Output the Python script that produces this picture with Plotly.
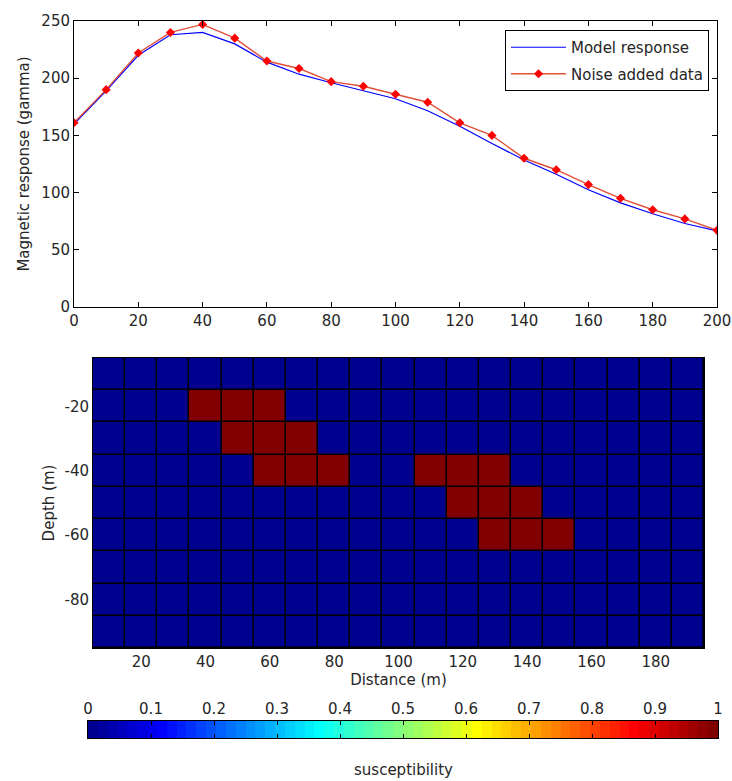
import numpy as np
import plotly.graph_objects as go

# ---------------- data ----------------
distance_pts = [0, 10, 20, 30, 40, 50, 60, 70, 80, 90, 100,
                110, 120, 130, 140, 150, 160, 170, 180, 190, 200]
model_response = [160, 189, 220, 238, 240, 230, 214, 203.5, 196, 189, 182,
                  171.5, 158, 143, 128.5, 116, 102.5, 91, 81.5, 73, 66.5]
noise_data = [161, 190, 222, 240, 247, 235, 215, 208.5, 197, 193, 186,
              179, 161, 150, 130, 120, 107, 95, 85, 77, 67]

cell_distance = [10, 20, 30, 40, 50, 60, 70, 80, 90, 100,
                 110, 120, 130, 140, 150, 160, 170, 180, 190]
cell_depth = [-10, -20, -30, -40, -50, -60, -70, -80, -90]
susceptibility = [
    [0, 0, 0, 0, 0, 0, 0, 0, 0, 0, 0, 0, 0, 0, 0, 0, 0, 0, 0],
    [0, 0, 0, 1, 1, 1, 0, 0, 0, 0, 0, 0, 0, 0, 0, 0, 0, 0, 0],
    [0, 0, 0, 0, 1, 1, 1, 0, 0, 0, 0, 0, 0, 0, 0, 0, 0, 0, 0],
    [0, 0, 0, 0, 0, 1, 1, 1, 0, 0, 1, 1, 1, 0, 0, 0, 0, 0, 0],
    [0, 0, 0, 0, 0, 0, 0, 0, 0, 0, 0, 1, 1, 1, 0, 0, 0, 0, 0],
    [0, 0, 0, 0, 0, 0, 0, 0, 0, 0, 0, 0, 1, 1, 1, 0, 0, 0, 0],
    [0, 0, 0, 0, 0, 0, 0, 0, 0, 0, 0, 0, 0, 0, 0, 0, 0, 0, 0],
    [0, 0, 0, 0, 0, 0, 0, 0, 0, 0, 0, 0, 0, 0, 0, 0, 0, 0, 0],
    [0, 0, 0, 0, 0, 0, 0, 0, 0, 0, 0, 0, 0, 0, 0, 0, 0, 0, 0],
]
top_xticks = [0, 20, 40, 60, 80, 100, 120, 140, 160, 180, 200]
top_yticks = [0, 50, 100, 150, 200, 250]
heat_xticks = [20, 40, 60, 80, 100, 120, 140, 160, 180]
heat_yticks = [-20, -40, -60, -80]
heat_yticklabels = ["-20", "-40", "-60", "-80"]
cbar_ticks = [0, 0.1, 0.2, 0.3, 0.4, 0.5, 0.6, 0.7, 0.8, 0.9, 1]
cbar_ticklabels = ["0", "0.1", "0.2", "0.3", "0.4", "0.5", "0.6", "0.7", "0.8", "0.9", "1"]


# ---------------- MATLAB jet(64) colormap ----------------
def jet(m=64):
    n = int(np.ceil(m / 4))
    u = np.concatenate([np.arange(1, n + 1) / n, np.ones(n - 1), np.arange(n, 0, -1) / n])
    g = int(np.ceil(n / 2)) - (1 if m % 4 == 1 else 0) + np.arange(1, len(u) + 1)
    r = g + n
    b = g - n
    J = np.zeros((m, 3))
    for col, idxs in ((0, r), (1, g), (2, b)):
        for idx, val in zip(idxs, u):
            if 1 <= idx <= m:
                J[idx - 1, col] = val
    return J


NLEV = 64
J = jet(NLEV)
jet_scale = []
for i, c in enumerate(J):
    col = "rgb(%d,%d,%d)" % tuple(int(round(v * 255)) for v in c)
    jet_scale.append([i / NLEV, col])
    jet_scale.append([(i + 1) / NLEV, col])
cbar_levels = [(i + 0.5) / NLEV for i in range(NLEV)]

W, H = 732, 781
FONT = "DejaVu Sans"
FS = 15
TXT = "#262626"

fig = go.Figure()

# top plot
fig.add_trace(go.Scatter(
    x=distance_pts, y=model_response, mode="lines", name="Model response",
    legendgroup="a",
    line=dict(color="#0000ff", width=1.2), xaxis="x", yaxis="y"))
fig.add_trace(go.Scatter(
    x=distance_pts, y=noise_data, mode="lines+markers", name="Noise added data",
    legendgroup="b",
    line=dict(color="#e2503a", width=1.4),
    marker=dict(symbol="diamond", size=7, color="#ff0000"),
    xaxis="x", yaxis="y"))

# heatmap
fig.add_trace(go.Heatmap(
    x=cell_distance, y=cell_depth, z=susceptibility, zmin=0, zmax=1,
    colorscale=jet_scale, showscale=False, xgap=1.5, ygap=1.5,
    xaxis="x2", yaxis="y2", hoverinfo="skip", showlegend=False))

# colour bar strip
fig.add_trace(go.Heatmap(
    x=cbar_levels, y=[0], z=[cbar_levels], zmin=0, zmax=1,
    colorscale=jet_scale, showscale=False,
    xaxis="x3", yaxis="y3", hoverinfo="skip", showlegend=False))

axis_common = dict(showline=True, linecolor="black", linewidth=1, mirror="ticks",
                   showgrid=False, zeroline=False, automargin=False,
                   tickfont=dict(family=FONT, size=FS, color=TXT),
                   title_font=dict(family=FONT, size=FS, color=TXT))

fig.update_layout(
    width=W, height=H, template="none",
    paper_bgcolor="white", plot_bgcolor="white",
    margin=dict(l=0, r=0, t=0, b=0),
    font=dict(family=FONT, size=FS, color=TXT),
    showlegend=True,
    legend=dict(x=709 / W, y=1 - 30 / H, xanchor="right", yanchor="top",
                bgcolor="white", bordercolor="black", borderwidth=1,
                font=dict(family=FONT, size=FS, color=TXT),
                tracegroupgap=4, itemwidth=55),
    xaxis=dict(axis_common, domain=[74 / W, 717 / W], range=[0, 200],
               tickvals=top_xticks, ticks="inside", ticklen=5,
               tickcolor="black", anchor="y"),
    yaxis=dict(axis_common, domain=[1 - 307 / H, 1 - 21 / H], range=[0, 250],
               tickvals=top_yticks, ticks="inside", ticklen=5,
               tickcolor="black", anchor="x",
               title=dict(text="Magnetic response (gamma)", standoff=8)),
    xaxis2=dict(axis_common, domain=[93 / W, 704 / W], range=[5, 195],
                tickvals=heat_xticks, ticks="", anchor="y2",
                mirror=True, title=dict(text="Distance (m)", standoff=4)),
    yaxis2=dict(axis_common, domain=[1 - 648 / H, 1 - 358 / H], range=[-95, -5],
                tickvals=heat_yticks, ticktext=heat_yticklabels, ticks="", anchor="x2",
                mirror=True, title=dict(text="Depth (m)", standoff=6)),
    xaxis3=dict(axis_common, domain=[88 / W, 718 / W], range=[0, 1],
                tickvals=cbar_ticks, ticktext=cbar_ticklabels, side="top",
                ticks="inside", ticklen=4, tickcolor="black", anchor="y3"),
    yaxis3=dict(axis_common, domain=[1 - 738 / H, 1 - 721 / H], range=[-0.5, 0.5],
                showticklabels=False, ticks="", mirror=True, anchor="x3"),
    shapes=[dict(type="rect", xref="x2 domain", yref="y2 domain",
                 x0=0, x1=1, y0=0, y1=1, fillcolor="black",
                 line=dict(width=0), layer="below")],
    annotations=[dict(text="susceptibility", xref="paper", yref="paper",
                      x=403 / W, y=1 - 770 / H, xanchor="center", yanchor="middle",
                      showarrow=False, font=dict(family=FONT, size=FS, color=TXT))],
)

fig.write_html("out.html", config={"displayModeBar": False},
               post_script="document.body.style.margin='0';document.body.style.overflow='hidden';")
